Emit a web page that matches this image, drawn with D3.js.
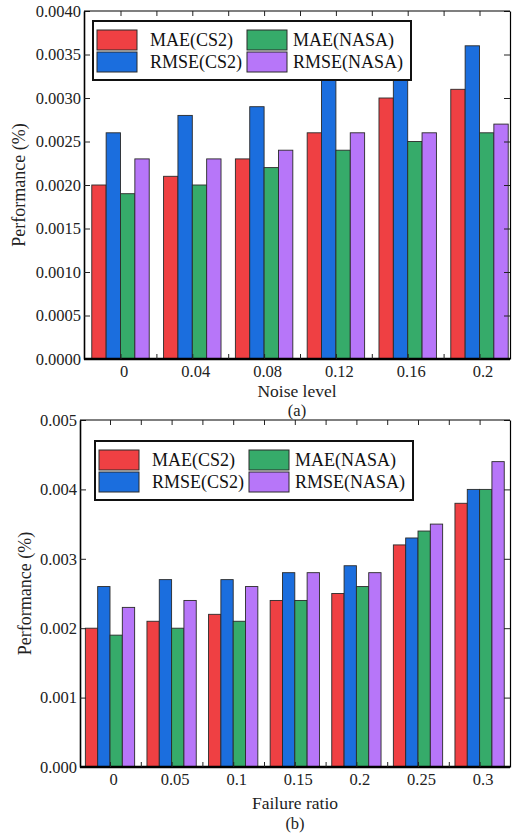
<!DOCTYPE html>
<html>
<head>
<meta charset="utf-8">
<script src="https://cdn.jsdelivr.net/npm/d3@7"></script>
<style>
  body { margin: 0; background: #fff; }
  svg { display: block; }
  svg text { font-family: "Liberation Serif", "Times New Roman", serif; }
</style>
</head>
<body>
<svg id="chart" width="512" height="837"></svg>
<script>
// series / categories
const seriesNames = ["MAE(CS2)", "RMSE(CS2)", "MAE(NASA)", "RMSE(NASA)"];
const seriesColors = ["#ef4043", "#1b6ede", "#36ab6a", "#b776f9"];

// (a) noise level
const noiseLevels = ["0", "0.04", "0.08", "0.12", "0.16", "0.2"];
const noiseMaeCS2 = [0.0020, 0.0021, 0.0023, 0.0026, 0.0030, 0.0031];
const noiseRmseCS2 = [0.0026, 0.0028, 0.0029, 0.0033, 0.0035, 0.0036];
const noiseMaeNASA = [0.0019, 0.0020, 0.0022, 0.0024, 0.0025, 0.0026];
const noiseRmseNASA = [0.0023, 0.0023, 0.0024, 0.0026, 0.0026, 0.0027];
const noiseYTicks = [0, 0.0005, 0.0010, 0.0015, 0.0020, 0.0025, 0.0030, 0.0035, 0.0040];

// (b) failure ratio
const failureRatios = ["0", "0.05", "0.1", "0.15", "0.2", "0.25", "0.3"];
const failMaeCS2 = [0.0020, 0.0021, 0.0022, 0.0024, 0.0025, 0.0032, 0.0038];
const failRmseCS2 = [0.0026, 0.0027, 0.0027, 0.0028, 0.0029, 0.0033, 0.0040];
const failMaeNASA = [0.0019, 0.0020, 0.0021, 0.0024, 0.0026, 0.0034, 0.0040];
const failRmseNASA = [0.0023, 0.0024, 0.0026, 0.0028, 0.0028, 0.0035, 0.0044];
const failYTicks = [0, 0.001, 0.002, 0.003, 0.004, 0.005];

const svg = d3.select("#chart");

function drawPanel(p) {
  const n = p.categories.length;
  // index scale: group i centered at x(i)
  const x = d3.scaleLinear().domain([-0.5, n - 0.5]).range(p.xRange);
  const y = d3.scaleLinear().domain([0, p.yMax]).range([p.bottom, p.top]);
  const step = x(1) - x(0);
  const barW = step * 0.8 / 4;

  const g = svg.append("g");

  // bars
  const series = p.values.map((vals, s) => ({ s: s, vals: vals }));
  g.selectAll("g.series")
    .data(series)
    .enter().append("g")
    .attr("fill", d => seriesColors[d.s])
    .selectAll("rect")
    .data(d => d.vals.map((v, i) => ({ s: d.s, i: i, v: v })))
    .enter().append("rect")
    .attr("x", d => x(d.i) - step * 0.4 + d.s * barW)
    .attr("y", d => y(d.v))
    .attr("width", barW)
    .attr("height", d => y(0) - y(d.v))
    .attr("stroke", "#2a2a2a")
    .attr("stroke-width", 0.9);

  const halfTicks = d3.range(-0.5, n, 0.5).filter(t => t > -0.5 && x(t) < p.right - 1);
  const minorY = d3.range(0, p.yMax + 1e-9, p.yMinor);

  // left axis
  const left = g.append("g").attr("transform", `translate(${p.left},0)`);
  left.call(d3.axisLeft(y).tickValues(minorY).tickSize(-3).tickFormat("").tickSizeOuter(0));
  left.call(d3.axisLeft(y).tickValues(p.yTicks).tickSize(-6).tickPadding(3)
    .tickFormat(d3.format(p.yFormat)).tickSizeOuter(0));

  // right axis
  const right = g.append("g").attr("transform", `translate(${p.right},0)`);
  right.call(d3.axisRight(y).tickValues(minorY).tickSize(-3).tickFormat("").tickSizeOuter(0));
  right.call(d3.axisRight(y).tickValues(p.yTicks).tickSize(-6).tickFormat("").tickSizeOuter(0));

  // top axis
  const topAx = g.append("g").attr("transform", `translate(0,${p.top})`);
  topAx.call(d3.axisTop(x).tickValues(halfTicks).tickSize(-5).tickFormat("").tickSizeOuter(0));
  topAx.select(".domain").attr("d", `M${p.left},0H${p.right}`);

  // bottom axis
  const bot = g.append("g").attr("transform", `translate(0,${p.bottom})`);
  bot.call(d3.axisBottom(x).tickValues(halfTicks).tickSize(-5).tickFormat("").tickSizeOuter(0));
  bot.select(".domain").attr("d", `M${p.left},0H${p.right}`).attr("stroke-width", 2.5);

  left.select(".domain").attr("stroke-width", 1.6);
  right.select(".domain").attr("stroke-width", 1.2);
  topAx.select(".domain").attr("stroke-width", 1.2);

  [left, right, topAx, bot].forEach(a => a.attr("font-family", null).attr("font-size", null));

  g.selectAll(".tick line").attr("stroke", "#222");
  g.selectAll(".tick text")
    .style("font-size", "16.5px")
    .attr("fill", "#222");

  // category labels
  g.selectAll("text.cat")
    .data(p.categories)
    .enter().append("text")
    .attr("class", "cat")
    .attr("x", (d, i) => x(i) + 3.5)
    .attr("y", p.bottom + 18)
    .attr("text-anchor", "middle")
    .style("font-size", "16.5px")
    .attr("fill", "#222")
    .text(d => d);

  // axis titles
  g.append("text")
    .attr("x", (p.left + p.right) / 2 + 0)
    .attr("y", p.xTitleY)
    .attr("text-anchor", "middle")
    .style("font-size", "17.5px")
    .attr("fill", "#222")
    .text(p.xTitle);

  g.append("text")
    .attr("x", (p.left + p.right) / 2 + 0)
    .attr("y", p.captionY)
    .attr("text-anchor", "middle")
    .style("font-size", "16.5px")
    .attr("fill", "#222")
    .text(p.caption);

  g.append("text")
    .attr("transform", `translate(${p.yTitleX},${(p.top + p.bottom) / 2}) rotate(-90)`)
    .attr("text-anchor", "middle")
    .style("font-size", "18px")
    .attr("fill", "#222")
    .text("Performance (%)");

  // legend
  const lg = g.append("g").attr("transform", `translate(${p.legendX},${p.legendY})`);
  lg.append("rect")
    .attr("width", 318).attr("height", 59)
    .attr("fill", "#fff").attr("stroke", "#111").attr("stroke-width", 2);
  const cols = [[0, 1], [2, 3]];
  cols.forEach((pair, c) => {
    pair.forEach((s, r) => {
      lg.append("rect")
        .attr("x", c === 0 ? 4 : 154)
        .attr("y", 9 + r * 22)
        .attr("width", 40).attr("height", 20)
        .attr("fill", seriesColors[s])
        .attr("stroke", "#2a2a2a").attr("stroke-width", 1);
      lg.append("text")
        .attr("x", c === 0 ? 57 : 200)
        .attr("y", 25 + r * 22)
        .style("font-size", "18px")
        .attr("fill", "#111")
        .text(seriesNames[s]);
    });
  });
}

drawPanel({
  categories: noiseLevels,
  values: [noiseMaeCS2, noiseRmseCS2, noiseMaeNASA, noiseRmseNASA],
  xRange: [84.6, 515.4],
  left: 84, right: 510, top: 11, bottom: 359,
  yMax: 0.004, yTicks: noiseYTicks, yMinor: 0.00025, yFormat: ".4f",
  xTitle: "Noise level", xTitleY: 397, caption: "(a)", captionY: 415.5,
  yTitleX: 25,
  legendX: 93, legendY: 21
});

drawPanel({
  categories: failureRatios,
  values: [failMaeCS2, failRmseCS2, failMaeNASA, failRmseNASA],
  xRange: [79.2, 510.4],
  left: 80, right: 510, top: 420, bottom: 767,
  yMax: 0.005, yTicks: failYTicks, yMinor: 0.0005, yFormat: ".3f",
  xTitle: "Failure ratio", xTitleY: 809, caption: "(b)", captionY: 829,
  yTitleX: 31,
  legendX: 95, legendY: 441
});
</script>
</body>
</html>
